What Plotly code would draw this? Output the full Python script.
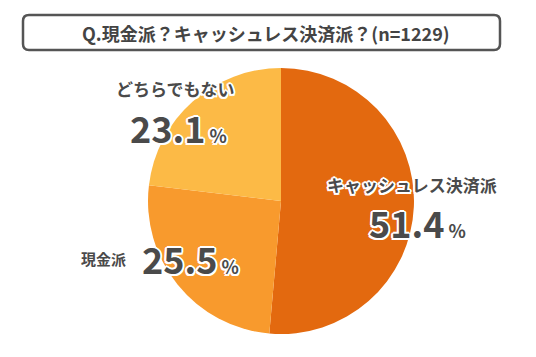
import plotly.graph_objects as go

categories = ["キャッシュレス決済派", "現金派", "どちらでもない"]
values = [51.4, 25.5, 23.1]
colors = ["#E3690F", "#F89A2D", "#FCBA46"]
title_text = "Q.現金派？キャッシュレス決済派？(n=1229)"

W, H = 536, 357
OFF = 8  # page body margin offset
FONT = "Noto Sans CJK JP"

def px(x):
    return (x - OFF) / W

def py(y):
    return 1 - (y - OFF) / H

fig = go.Figure()
fig.add_trace(go.Pie(
    labels=categories, values=values, sort=False, direction="clockwise",
    rotation=0, marker=dict(colors=colors, line=dict(width=0)),
    textinfo="none", hoverinfo="label+percent", showlegend=False,
    domain=dict(x=[px(148), px(414)], y=[py(334), py(68)]),
))

# rounded title box
x0, x1, y0, y1 = 23, 500, 15, 50
r = 6
rx, ry = r / W, r / H
X0, X1, Y0, Y1 = px(x0), px(x1), py(y0), py(y1)
path = (f"M {X0+rx},{Y0} L {X1-rx},{Y0} Q {X1},{Y0} {X1},{Y0-ry} "
        f"L {X1},{Y1+ry} Q {X1},{Y1} {X1-rx},{Y1} L {X0+rx},{Y1} "
        f"Q {X0},{Y1} {X0},{Y1+ry} L {X0},{Y0-ry} Q {X0},{Y0} {X0+rx},{Y0} Z")
fig.add_shape(type="path", path=path, xref="paper", yref="paper",
              line=dict(color="#555555", width=2.5), fillcolor="white", layer="below")

fig.add_annotation(x=px(266), y=py(33), xref="paper", yref="paper",
                   text=f"<b>{title_text}</b>", showarrow=False,
                   xanchor="center", yanchor="middle",
                   font=dict(family=FONT, size=18, color="#444444"))

halo = ("2px 0 0 #fff, -2px 0 0 #fff, 0 2px 0 #fff, 0 -2px 0 #fff, "
        "1.5px 1.5px 0 #fff, -1.5px -1.5px 0 #fff, 1.5px -1.5px 0 #fff, -1.5px 1.5px 0 #fff")

def label(x, y, text, size):
    fig.add_annotation(x=px(x), y=py(y), xref="paper", yref="paper",
                       text=text, showarrow=False, xanchor="center", yanchor="middle",
                       font=dict(family=FONT, size=size, color="#4a4a4a", weight="bold",
                                 shadow=halo))

def pct(v):
    return f"{v}<span style='font-size:18px'> %</span>"

# どちらでもない
label(175, 89, categories[2], 17)
label(178, 127, pct(values[2]), 36)
# 現金派
label(103, 259, categories[1], 15)
label(190, 258, pct(values[1]), 36)
# キャッシュレス決済派
label(412, 184, categories[0], 17)
label(417, 222, pct(values[0]), 36)

fig.update_layout(width=W, height=H, margin=dict(l=0, r=0, t=0, b=0),
                  paper_bgcolor="white", plot_bgcolor="white")
fig.write_html("out.html")
